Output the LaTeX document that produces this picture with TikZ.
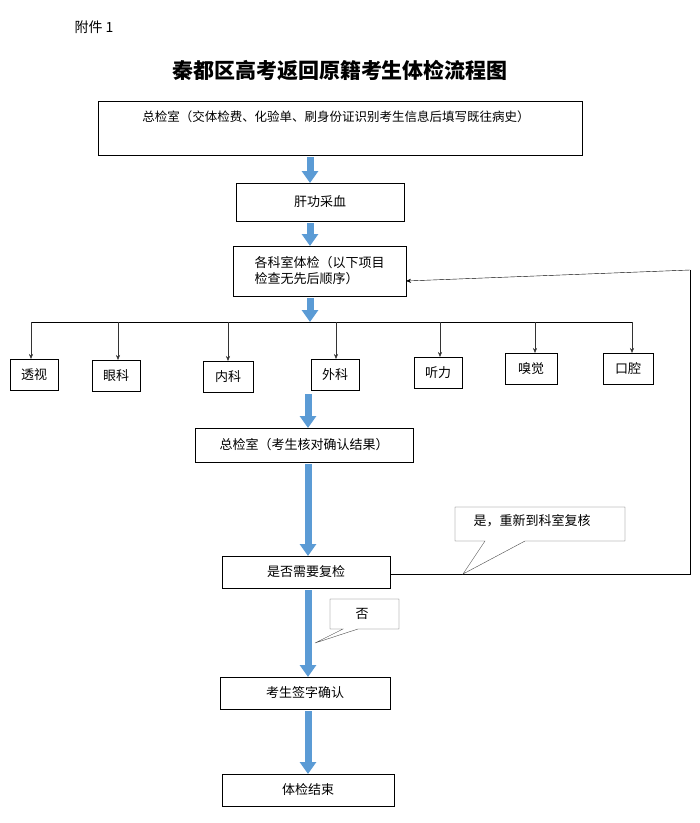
\documentclass[tikz,border=0pt]{standalone}
\usepackage{fontspec}
\setmainfont{Noto Sans CJK SC}
\usetikzlibrary{arrows.meta}
\begin{document}
\begin{tikzpicture}[x=1pt,y=-1pt,
  box/.style={draw,thick,inner sep=0pt,font=\fontsize{13}{16}\selectfont},
  barrow/.style={line width=7pt,-{Triangle[width=16pt,length=12pt]},color={rgb,255:red,91;green,155;blue,213}},
  tip/.style={-{Stealth[length=5pt,width=4pt]},gray!40!black}]
\useasboundingbox (0,0) rectangle (700,823);
\node[font=\fontsize{14}{16}\selectfont] (fj) at (94,27) {附件 1};
\node[font=\bfseries\fontsize{21}{25}\selectfont] (title) at (340,70) {秦都区高考返回原籍考生体检流程图};
\draw[thick] (98,101) rectangle (582,155);
\node[font=\fontsize{12.5}{15}\selectfont] (z1) at (336,117) {总检室（交体检费、化验单、刷身份证识别考生信息后填写既往病史）};
\node[box,minimum width=168pt,minimum height=38pt] (gg) at (320,202) {肝功采血};
\node[box,minimum width=173pt,minimum height=50pt,align=left] (gk) at (319.5,271) {各科室体检（以下项目\\检查无先后顺序）};
\coordinate (hl) at (31,322);\coordinate (hr) at (632,322);
\draw[thick] (hl) -- (hr);
\foreach \n/\t/\x/\y/\w/\lx in {a/透视/34/374.5/48/31,b/眼科/116/375.5/48/118,c/内科/228/376.5/50/228,d/外科/335/374.5/48/336,e/听力/438/372.5/48/440,f/嗅觉/531/368.5/52/535,g/口腔/628/368.5/50/632}{
  \node[box,minimum width=\w pt,minimum height=31pt,anchor=center] (\n) at (\x,\y) {\t};
  \coordinate (t\n) at (\lx,322);
  \draw[tip] (t\n) -- (\lx,\y-15.5);
}
\node[box,minimum width=218pt,minimum height=34pt] (zj) at (304,445) {总检室（考生核对确认结果）};
\node[box,minimum width=168pt,minimum height=32pt] (fj2) at (306,572) {是否需要复检};
\node[box,minimum width=170pt,minimum height=32pt] (qz) at (305,693) {考生签字确认};
\node[box,minimum width=172pt,minimum height=32pt] (js) at (308,790) {体检结束};
\draw[barrow] (310,157) -- (310,183);
\draw[barrow] (310,223) -- (310,246);
\draw[barrow] (310,298) -- (310,322);
\draw[barrow] (308,394) -- (308,428);
\draw[barrow] (308,464) -- (308,556);
\draw[barrow] (308,590) -- (308,677);
\draw[barrow] (308,711) -- (308,774);
\coordinate (c0) at (390,574);\coordinate (c1) at (690,574);\coordinate (c2) at (690,270);\coordinate (c3) at (406,281);
\draw (c0) -- (c1) -- (c2) edge[tip,black] (c3);
\coordinate (p1) at (463,574);
\draw[gray!60!black,fill=white] (455,507) -- (625,507) -- (625,541) -- (525,541) -- (p1) -- (485,541) -- (455,541) -- cycle;
\node[font=\fontsize{13}{15}\selectfont] (yes) at (532,521) {是，重新到科室复核};
\coordinate (p2) at (315,643);
\draw[gray!60!black,fill=white] (330,599) -- (399,599) -- (399,629) -- (358,629) -- (p2) -- (343,629) -- (330,629) -- cycle;
\node[font=\fontsize{13}{15}\selectfont] (no) at (362,614) {否};
\end{tikzpicture}
\end{document}
